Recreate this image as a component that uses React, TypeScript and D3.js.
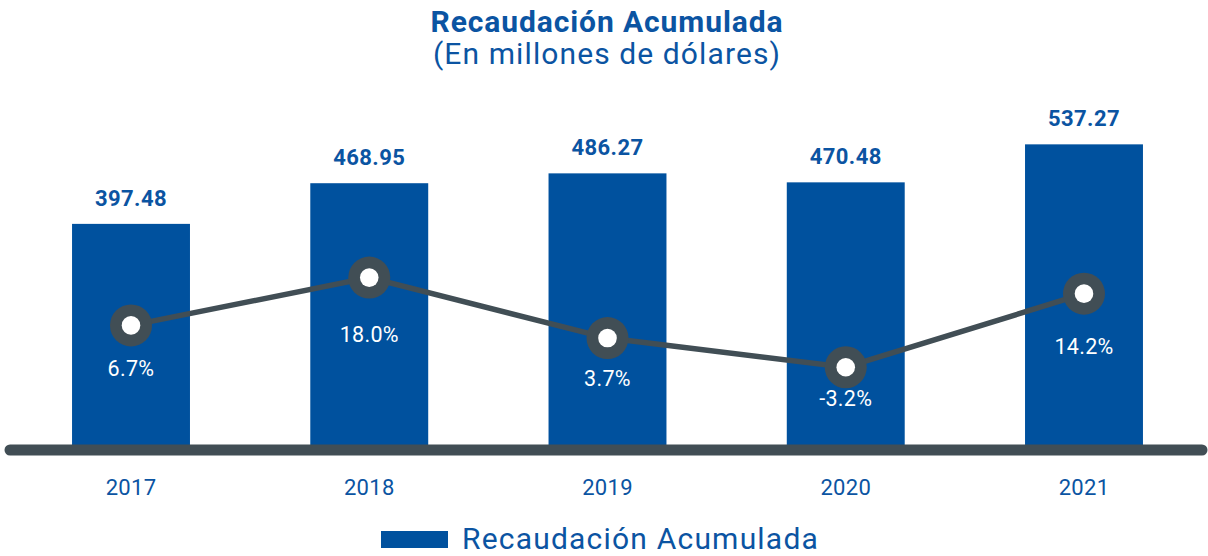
import * as d3 from "d3";

const years = ["2017", "2018", "2019", "2020", "2021"];
const recaudacion = [397.48, 468.95, 486.27, 470.48, 537.27];
const variacion = [6.7, 18.0, 3.7, -3.2, 14.2];

const W = 1208;
const H = 556;
const BASE = 450;
const BLUE = "#00519e";
const TEXT_BLUE = "#0b54a2";
const GRAY = "#414e55";
const FONT = "Roboto, 'Noto Sans', sans-serif";

const App = () => {
  const x = d3
    .scaleBand<string>()
    .domain(years)
    .range([12, 1203])
    .paddingInner(0.505)
    .paddingOuter(0.252);
  const y = d3.scaleLinear().domain([0, 791]).range([BASE, 0]);
  // dots and their labels sit on two different vertical scales
  const yDot = d3.scaleLinear().domain([-10, 25]).range([396, 248]);
  const yLab = d3.scaleLinear().domain([-10, 25]).range([419.4, 313.7]);

  const cx = (yr: string) => (x(yr) ?? 0) + x.bandwidth() / 2;
  const line = d3
    .line<number>()
    .x((_, i) => cx(years[i]))
    .y((d) => yDot(d));

  return (
    <svg
      width={W}
      height={H}
      style={{ position: "absolute", left: 0, top: 0, display: "block" }}
      fontFamily={FONT}
    >
      <text x={607} y={32} textAnchor="middle" fontSize={30} letterSpacing={0.9} fontWeight="bold" fill={TEXT_BLUE}>
        Recaudación Acumulada
      </text>
      <text x={607} y={64} textAnchor="middle" fontSize={30} letterSpacing={1.1} fill={TEXT_BLUE}>
        (En millones de dólares)
      </text>

      <g>
        {years.map((yr, i) => (
          <rect
            key={yr}
            x={x(yr)}
            y={y(recaudacion[i])}
            width={x.bandwidth()}
            height={BASE - y(recaudacion[i])}
            fill={BLUE}
          />
        ))}
      </g>
      <g fontSize={22} letterSpacing={0.4} fontWeight="bold" fill={TEXT_BLUE} textAnchor="middle">
        {years.map((yr, i) => (
          <text key={yr} x={cx(yr)} y={y(recaudacion[i]) - 26} dy="0.35em">
            {recaudacion[i].toFixed(2)}
          </text>
        ))}
      </g>

      <line x1={10} x2={1202} y1={BASE} y2={BASE} stroke={GRAY} strokeWidth={11} strokeLinecap="round" />

      <path d={line(variacion) ?? ""} fill="none" stroke={GRAY} strokeWidth={5.5} />
      <g>
        {years.map((yr, i) => (
          <g key={yr}>
            <circle cx={cx(yr)} cy={yDot(variacion[i])} r={21} fill={GRAY} />
            <circle cx={cx(yr)} cy={yDot(variacion[i])} r={9.3} fill="#fff" />
          </g>
        ))}
      </g>
      <g fontSize={21.5} letterSpacing={0.3} fill="#fff" textAnchor="middle">
        {years.map((yr, i) => (
          <text key={yr} x={cx(yr)} y={yLab(variacion[i])} dy="0.35em">
            {variacion[i].toFixed(1)}%
          </text>
        ))}
      </g>

      <g fontSize={22} letterSpacing={0.3} fill={TEXT_BLUE} textAnchor="middle">
        {years.map((yr) => (
          <text key={yr} x={cx(yr)} y={487} dy="0.35em">
            {yr}
          </text>
        ))}
      </g>

      <rect x={381} y={531} width={67} height={17} fill={BLUE} />
      <text x={462} y={549} fontSize={30} letterSpacing={1.2} fill={TEXT_BLUE}>
        Recaudación Acumulada
      </text>
    </svg>
  );
};

export default App;
